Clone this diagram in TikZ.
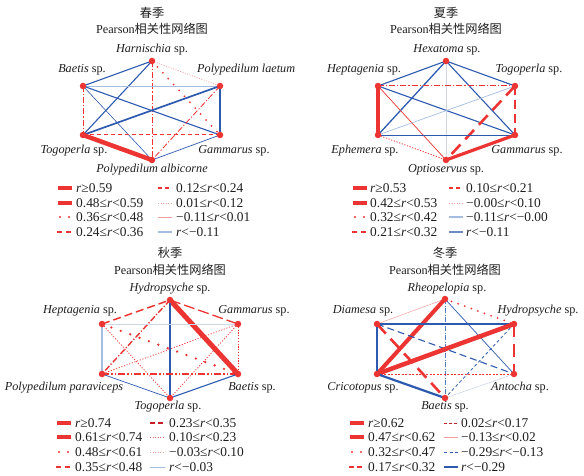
\documentclass[tikz,border=0pt]{standalone}
\usepackage{fontspec}
\setmainfont{Liberation Serif}
\newfontfamily\cjk{Noto Sans CJK SC}
\definecolor{rd}{RGB}{236,52,50}
\definecolor{drd}{RGB}{200,30,40}
\definecolor{lrd}{RGB}{245,160,160}
\definecolor{bl}{RGB}{45,90,175}
\definecolor{lbl}{RGB}{165,188,225}
\definecolor{vlbl}{RGB}{205,215,232}
\definecolor{txt}{RGB}{30,30,30}
\tikzset{
  dot/.style={circle,fill=rd,inner sep=0pt,minimum size=6.5pt},
  lab/.style={font=\fontsize{12.2}{13}\selectfont,text=txt,inner sep=0pt},
  leg/.style={font=\fontsize{13.4}{14}\selectfont,text=txt,inner sep=0pt,anchor=west},
  ttl/.style={font=\fontsize{12.2}{13}\selectfont,text=txt,inner sep=0pt},
  rxthick/.style={rd,line width=4.5pt},
  rthick/.style={rd,line width=3.2pt},
  rdots/.style={rd,line width=2.2pt,line cap=round,dash pattern=on 0pt off 9pt},
  rdash/.style={rd,line width=2.2pt,dash pattern=on 9pt off 5pt},
  rdashl/.style={rd,line width=2.6pt,dash pattern=on 13pt off 7pt},
  rdasht/.style={rd,line width=1pt,dash pattern=on 4pt off 3pt},
  ddasht/.style={drd,line width=0.9pt,dash pattern=on 3pt off 2pt},
  rdashdot/.style={rd,line width=1pt,dash pattern=on 6pt off 2pt on 1.2pt off 2pt},
  rdotf/.style={rd,line width=0.8pt,dash pattern=on 1.2pt off 1.6pt},
  lrdot/.style={lrd,line width=0.7pt,dash pattern=on 1pt off 1.5pt},
  lrsolid/.style={lrd,line width=0.7pt},
  bthin/.style={bl,line width=0.7pt},
  bmed/.style={bl,line width=1.1pt},
  bthick/.style={bl,line width=2.2pt},
  bdash/.style={bl,line width=1.1pt,dash pattern=on 7pt off 4pt},
  bdasht/.style={bl,line width=0.8pt,dash pattern=on 3pt off 2.5pt},
  lblue/.style={lbl,line width=0.7pt},
  lbluet/.style={lbl,line width=2pt},
  vlblue/.style={vlbl,line width=0.6pt},
}
\begin{document}
\begin{tikzpicture}[x=1pt,y=-1pt]
\useasboundingbox (0,0) rectangle (584,476);
% ================= SPRING =================
\node[ttl] (st1) at (152,13) {\cjk 春季};
\node[ttl] (st2) at (152,29) {Pearson{\cjk 相关性网络图}};
\coordinate (sH) at (152,61);
\coordinate (sB) at (83,86);
\coordinate (sL) at (220,86);
\coordinate (sT) at (83,135);
\coordinate (sG) at (220,135);
\coordinate (sA) at (152,160);
\draw[bmed] (sB) -- (sH);
\draw[lrdot] (sH) -- (sL);
\draw[bmed] (sH) -- (sT);
\draw[rdashdot] (sH) -- (sA);
\draw[rdots,line width=2pt,dash pattern=on 0pt off 8pt] (sH) -- (sG);
\draw[lblue] (sB) -- (sL);
\draw[bmed] (sB) -- (sG);
\draw[rdashdot] (sB) -- (sT);
\draw[bl,line width=0.6pt] (sB) -- (sA);
\draw[bl,line width=1.7pt] (sL) -- (sT);
\draw[bthick] (sL) -- (sG);
\draw[rdashdot,line width=0.8pt] (sL) -- (sA);
\draw[rdasht] (sT) -- (sG);
\draw[rxthick] (sT) -- (sA);
\draw[bthin] (sG) -- (sA);
\foreach \n in {sH,sB,sL,sT,sG,sA} \node[dot] (\n d) at (\n) {};
\node[lab] (sHl) at (152,50) {\textit{Harnischia} sp.};
\node[lab] (sBl) at (82,70) {\textit{Baetis} sp.};
\node[lab,anchor=west] (sLl) at (197,70) {\textit{Polypedilum laetum}};
\node[lab] (sTl) at (74,151) {\textit{Togoperla} sp.};
\node[lab] (sGl) at (234,151) {\textit{Gammarus} sp.};
\node[lab] (sAl) at (152,170) {\textit{Polypedilum albicorne}};
% legend
\draw[rxthick] (58,188) -- (72,188);
\draw[rthick] (58,203) -- (72,203);
\draw[rdots] (60,217) -- (72,217);
\draw[rdash,dash pattern=on 5pt off 4pt] (57,232) -- (72,232);
\draw[rdasht,line width=1.3pt] (158,188) -- (172,188);
\draw[lrdot] (158,203) -- (172,203);
\draw[lrsolid,line width=1pt] (158,217) -- (172,217);
\draw[lbluet] (158,232) -- (172,232);
\node[leg] (sl1) at (76,188) {\textit{r}≥0.59};
\node[leg] (sl2) at (76,203) {0.48≤\textit{r}<0.59};
\node[leg] (sl3) at (76,217) {0.36≤\textit{r}<0.48};
\node[leg] (sl4) at (76,232) {0.24≤\textit{r}<0.36};
\node[leg] (sl5) at (176,188) {0.12≤\textit{r}<0.24};
\node[leg] (sl6) at (176,203) {0.01≤\textit{r}<0.12};
\node[leg] (sl7) at (176,217) {−0.11≤\textit{r}<0.01};
\node[leg] (sl8) at (176,232) {\textit{r}<−0.11};
% ================= SUMMER =================
\node[ttl] (ut1) at (446,13) {\cjk 夏季};
\node[ttl] (ut2) at (446,29) {Pearson{\cjk 相关性网络图}};
\coordinate (uH) at (446,61);
\coordinate (uP) at (378,86);
\coordinate (uT) at (515,86);
\coordinate (uE) at (378,135);
\coordinate (uG) at (515,135);
\coordinate (uO) at (446,160);
\draw[bmed] (uP) -- (uH);
\draw[bmed] (uH) -- (uT);
\draw[bmed,line width=1.3pt] (uH) -- (uE);
\draw[bmed] (uH) -- (uG);
\draw[vlblue] (uH) -- (uO);
\draw[rdashdot] (uP) -- (uT);
\draw[rthick] (uP) -- (uE);
\draw[bmed] (uP) -- (uG);
\draw[rd,line width=0.7pt] (uP) -- (uO);
\draw[lblue] (uT) -- (uE);
\draw[rdash] (uT) -- (uG);
\draw[rdashl] (uT) -- (uO);
\draw[bthin] (uE) -- (uG);
\draw[rdotf] (uE) -- (uO);
\draw[rthick] (uG) -- (uO);
\foreach \n in {uH,uP,uT,uE,uG,uO} \node[dot] (\n d) at (\n) {};
\node[lab] (uHl) at (447,50) {\textit{Hexatoma} sp.};
\node[lab] (uPl) at (364,70) {\textit{Heptagenia} sp.};
\node[lab] (uTl) at (529,70) {\textit{Togoperla} sp.};
\node[lab] (uEl) at (365,151) {\textit{Ephemera} sp.};
\node[lab] (uGl) at (527,151) {\textit{Gammarus} sp.};
\node[lab] (uOl) at (446,170) {\textit{Optioservus} sp.};
\draw[rxthick] (353,188) -- (367,188);
\draw[rthick] (353,203) -- (367,203);
\draw[rdots] (355,217) -- (367,217);
\draw[rdash,dash pattern=on 5pt off 4pt] (352,232) -- (367,232);
\draw[rdasht,line width=1.3pt] (449,188) -- (463,188);
\draw[lrdot] (449,203) -- (463,203);
\draw[lbluet] (449,217) -- (463,217);
\draw[bl!70,line width=1.3pt] (449,232) -- (463,232);
\node[leg] (ul1) at (370,188) {\textit{r}≥0.53};
\node[leg] (ul2) at (370,203) {0.42≤\textit{r}<0.53};
\node[leg] (ul3) at (370,217) {0.32≤\textit{r}<0.42};
\node[leg] (ul4) at (370,232) {0.21≤\textit{r}<0.32};
\node[leg] (ul5) at (466,188) {0.10≤\textit{r}<0.21};
\node[leg] (ul6) at (466,203) {−0.00≤\textit{r}<0.10};
\node[leg] (ul7) at (466,217) {−0.11≤\textit{r}<−0.00};
\node[leg] (ul8) at (466,232) {\textit{r}<−0.11};
% ================= AUTUMN =================
\node[ttl] (at1) at (170,253) {\cjk 秋季};
\node[ttl] (at2) at (170,270) {Pearson{\cjk 相关性网络图}};
\coordinate (aY) at (170,300);
\coordinate (aP) at (102,324);
\coordinate (aG) at (238,324);
\coordinate (aQ) at (102,374);
\coordinate (aB) at (238,374);
\coordinate (aT) at (170,398);
\draw[rd,line width=1.5pt,dash pattern=on 8pt off 4pt] (aP) -- (aY);
\draw[rd,line width=1.3pt,dash pattern=on 11pt off 4pt] (aY) -- (aG);
\draw[rdashdot,line width=1.4pt] (aY) -- (aQ);
\draw[rxthick,line width=5pt] (aY) -- (aB);
\draw[bmed] (aY) -- (aT);
\draw[vlblue] (aP) -- (aG);
\draw[lbluet] (aP) -- (aQ);
\draw[rdots,line width=2.6pt,dash pattern=on 0pt off 10pt] (aP) -- (aB);
\draw[rdotf,line width=0.7pt] (aP) -- (aT);
\draw[rdotf,line width=0.7pt] (aG) -- (aQ);
\draw[rdotf,line width=0.7pt] (aG) -- (aB);
\draw[rdotf,line width=0.7pt] (aG) -- (aT);
\draw[rd,line width=1.8pt,dash pattern=on 7pt off 2pt on 1.5pt off 2pt on 1.5pt off 2pt] (aQ) -- (aB);
\draw[bthin] (aQ) -- (aT);
\draw[bmed] (aB) -- (aT);
\foreach \n in {aY,aP,aG,aQ,aB,aT} \node[dot] (\n d) at (\n) {};
\node[lab] (aYl) at (170,289) {\textit{Hydropsyche} sp.};
\node[lab] (aPl) at (80,311) {\textit{Heptagenia} sp.};
\node[lab] (aGl) at (254,311) {\textit{Gammarus} sp.};
\node[lab] (aQl) at (64,388) {\textit{Polypedilum paraviceps}};
\node[lab] (aBl) at (252,388) {\textit{Baetis} sp.};
\node[lab] (aTl) at (168,407) {\textit{Togoperla} sp.};
\draw[rxthick] (57,423) -- (71,423);
\draw[rthick,line width=3.5pt] (57,437) -- (71,437);
\draw[rdots] (59,452) -- (71,452);
\draw[rdash,dash pattern=on 5pt off 4pt] (56,467) -- (71,467);
\draw[drd,line width=1.8pt,dash pattern=on 5pt off 3pt] (150,423) -- (165,423);
\draw[lrdot,rd!70] (150,437) -- (165,437);
\draw[lrdot] (150,452) -- (165,452);
\draw[lblue,line width=1pt] (150,467) -- (165,467);
\node[leg] (al1) at (75,423) {\textit{r}≥0.74};
\node[leg] (al2) at (75,437) {0.61≤\textit{r}<0.74};
\node[leg] (al3) at (75,452) {0.48≤\textit{r}<0.61};
\node[leg] (al4) at (75,467) {0.35≤\textit{r}<0.48};
\node[leg] (al5) at (169,423) {0.23≤\textit{r}<0.35};
\node[leg] (al6) at (169,437) {0.10≤\textit{r}<0.23};
\node[leg] (al7) at (169,452) {−0.03≤\textit{r}<0.10};
\node[leg] (al8) at (169,467) {\textit{r}<−0.03};
% ================= WINTER =================
\node[ttl] (wt1) at (445,253) {\cjk 冬季};
\node[ttl] (wt2) at (445,270) {Pearson{\cjk 相关性网络图}};
\coordinate (wR) at (445,299);
\coordinate (wD) at (377,324);
\coordinate (wY) at (514,324);
\coordinate (wC) at (377,374);
\coordinate (wA) at (514,374);
\coordinate (wB) at (445,398);
\draw[lrsolid,line width=0.5pt] (wD) -- (wR);
\draw[rdots,line width=2pt,dash pattern=on 0pt off 7pt] (wR) -- (wY);
\draw[rxthick,line width=4pt] (wR) -- (wC);
\draw[bl!80,line width=1pt,dash pattern=on 5pt off 1.5pt on 1pt off 1.5pt] (wR) -- (wB);
\draw[bthin] (wR) -- (wA);
\draw[bthick] (wD) -- (wY);
\draw[bthick] (wD) -- (wC);
\draw[bdash] (wD) -- (wA);
\draw[rdashl] (wD) -- (wB);
\draw[rxthick] (wY) -- (wC);
\draw[rdashl] (wY) -- (wA);
\draw[bdasht] (wY) -- (wB);
\draw[rd,line width=0.7pt,dash pattern=on 2pt off 1.5pt] (wC) -- (wA);
\draw[bthick] (wC) -- (wB);
\draw[vlblue] (wA) -- (wB);
\foreach \n in {wR,wD,wY,wC,wA,wB} \node[dot] (\n d) at (\n) {};
\node[lab] (wRl) at (447,289) {\textit{Rheopelopia} sp.};
\node[lab] (wDl) at (363,311) {\textit{Diamesa} sp.};
\node[lab] (wYl) at (538,311) {\textit{Hydropsyche} sp.};
\node[lab] (wCl) at (363,388) {\textit{Cricotopus} sp.};
\node[lab] (wAl) at (520,388) {\textit{Antocha} sp.};
\node[lab] (wBl) at (445,407) {\textit{Baetis} sp.};
\draw[rxthick] (350,423) -- (364,423);
\draw[rthick,line width=3.5pt] (350,437) -- (364,437);
\draw[rdots] (352,452) -- (364,452);
\draw[rdash,dash pattern=on 5pt off 3pt] (349,467) -- (364,467);
\draw[ddasht] (444,423) -- (458,423);
\draw[lrsolid,line width=1pt] (444,437) -- (458,437);
\draw[bdasht] (444,452) -- (458,452);
\draw[bthick] (444,467) -- (458,467);
\node[leg] (wl1) at (368,423) {\textit{r}≥0.62};
\node[leg] (wl2) at (368,437) {0.47≤\textit{r}<0.62};
\node[leg] (wl3) at (368,452) {0.32≤\textit{r}<0.47};
\node[leg] (wl4) at (368,467) {0.17≤\textit{r}<0.32};
\node[leg] (wl5) at (461,423) {0.02≤\textit{r}<0.17};
\node[leg] (wl6) at (461,437) {−0.13≤\textit{r}<0.02};
\node[leg] (wl7) at (461,452) {−0.29≤\textit{r}<−0.13};
\node[leg] (wl8) at (461,467) {\textit{r}<−0.29};
\end{tikzpicture}
\end{document}
